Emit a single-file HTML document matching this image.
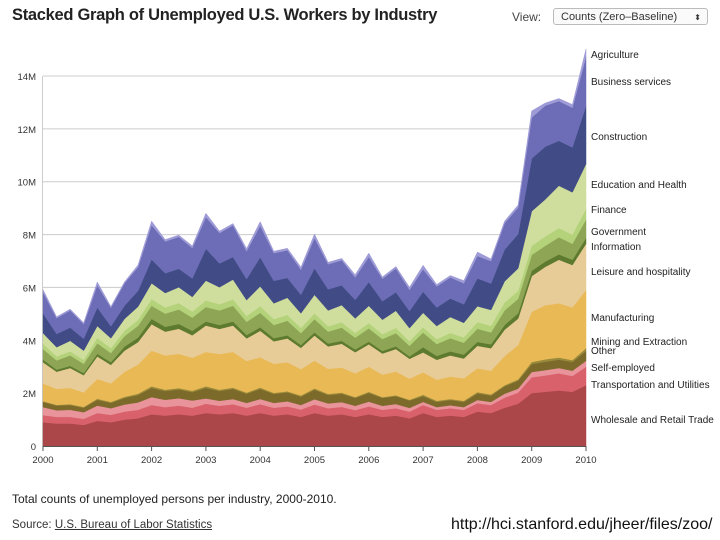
<!DOCTYPE html>
<html><head><meta charset="utf-8"><style>
body{margin:0;width:720px;height:540px;background:#fff;font-family:"Liberation Sans",sans-serif;overflow:hidden;position:relative}
.t{position:absolute;white-space:nowrap}
</style></head><body>
<div class="t" style="left:12px;top:6px;font-size:16.5px;font-weight:bold;color:#222;letter-spacing:-0.3px">Stacked Graph of Unemployed U.S. Workers by Industry</div>
<div class="t" style="left:512px;top:10px;font-size:12px;color:#444">View:</div>
<div class="t" style="left:553px;top:8px;width:155px;height:17px;border:1px solid #bbb;border-radius:3px;font-size:11px;color:#333;line-height:17px;padding-left:7px;box-sizing:border-box;background:#fafafa">Counts (Zero–Baseline)<span style="position:absolute;right:6px;font-size:8px">⬍</span></div>
<svg id="chart" width="720" height="540" style="position:absolute;left:0;top:0"></svg>
<div class="t" style="left:12px;top:492px;font-size:12px;color:#222">Total counts of unemployed persons per industry, 2000-2010.</div>
<div class="t" style="left:12px;top:519px;font-size:11.5px;color:#333">Source: <span style="text-decoration:underline">U.S. Bureau of Labor Statistics</span></div>
<div class="t" style="left:451px;top:516px;font-size:16px;color:#111">http://hci.stanford.edu/jheer/files/zoo/</div>
<script>
const years=[2000,2001,2002,2003,2004,2005,2006,2007,2008,2009,2010];
const yTicks=[0,2,4,6,8,10,12,14];
const yTickLabels=["0","2M","4M","6M","8M","10M","12M","14M"];
const seriesNames=["Wholesale and Retail Trade","Transportation and Utilities","Self-employed","Other","Mining and Extraction","Manufacturing","Leisure and hospitality","Information","Government","Finance","Education and Health","Construction","Business services","Agriculture"];
const wholesale=[0.9,0.85,0.85,0.8,0.95,0.9,1.0,1.05,1.2,1.15,1.2,1.15,1.25,1.2,1.25,1.15,1.25,1.15,1.2,1.1,1.25,1.15,1.2,1.1,1.2,1.1,1.15,1.05,1.25,1.1,1.15,1.1,1.3,1.25,1.45,1.6,2.0,2.05,2.1,2.05,2.3];
const transport=[0.27,0.25,0.25,0.23,0.3,0.28,0.3,0.32,0.35,0.32,0.33,0.3,0.35,0.32,0.33,0.3,0.33,0.3,0.3,0.28,0.32,0.28,0.28,0.26,0.3,0.27,0.28,0.25,0.3,0.27,0.28,0.27,0.32,0.3,0.38,0.42,0.6,0.62,0.65,0.6,0.7];
const selfEmployed=[0.3,0.25,0.27,0.25,0.28,0.25,0.27,0.28,0.3,0.28,0.28,0.27,0.2,0.19,0.2,0.18,0.2,0.18,0.19,0.17,0.2,0.18,0.18,0.16,0.18,0.15,0.16,0.14,0.12,0.1,0.11,0.1,0.12,0.12,0.15,0.15,0.2,0.2,0.2,0.2,0.22];
const other=[0.2,0.18,0.18,0.17,0.22,0.2,0.25,0.28,0.35,0.33,0.33,0.32,0.4,0.37,0.38,0.35,0.38,0.34,0.34,0.32,0.36,0.32,0.32,0.3,0.33,0.3,0.3,0.28,0.22,0.2,0.2,0.2,0.25,0.24,0.28,0.3,0.3,0.32,0.32,0.33,0.38];
const mining=[0.03,0.03,0.03,0.03,0.04,0.04,0.04,0.05,0.06,0.05,0.05,0.05,0.06,0.05,0.05,0.04,0.05,0.04,0.04,0.04,0.05,0.04,0.04,0.03,0.04,0.03,0.03,0.03,0.05,0.04,0.04,0.04,0.05,0.04,0.04,0.05,0.08,0.09,0.08,0.07,0.1];
const manufacturing=[0.67,0.6,0.62,0.55,0.75,0.7,0.95,1.1,1.35,1.3,1.3,1.25,1.3,1.35,1.35,1.2,1.15,1.1,1.1,1.0,1.05,0.95,0.95,0.9,0.95,0.85,0.9,0.8,0.85,0.8,0.85,0.85,0.9,0.9,1.1,1.3,1.9,2.05,2.05,2.0,2.2];
const leisure=[0.8,0.65,0.75,0.65,0.85,0.7,0.8,0.85,1.0,0.9,0.95,0.85,1.0,0.95,1.0,0.85,1.0,0.85,0.9,0.8,0.95,0.85,0.9,0.8,0.85,0.8,0.85,0.75,0.75,0.75,0.8,0.75,0.85,0.85,1.0,1.0,1.35,1.45,1.65,1.6,1.75];
const information=[0.1,0.08,0.08,0.08,0.1,0.1,0.15,0.17,0.2,0.18,0.18,0.17,0.15,0.15,0.15,0.13,0.13,0.12,0.12,0.11,0.12,0.11,0.11,0.1,0.1,0.1,0.1,0.09,0.2,0.15,0.15,0.15,0.15,0.15,0.18,0.2,0.2,0.2,0.2,0.2,0.22];
const government=[0.4,0.35,0.4,0.35,0.4,0.35,0.4,0.45,0.5,0.5,0.55,0.5,0.55,0.55,0.6,0.5,0.55,0.5,0.55,0.45,0.5,0.45,0.5,0.45,0.5,0.45,0.5,0.4,0.55,0.45,0.5,0.45,0.5,0.45,0.55,0.55,0.6,0.6,0.65,0.6,0.7];
const finance=[0.2,0.15,0.15,0.15,0.2,0.18,0.2,0.22,0.25,0.23,0.24,0.23,0.25,0.23,0.24,0.22,0.25,0.22,0.22,0.2,0.22,0.2,0.2,0.18,0.2,0.18,0.2,0.17,0.2,0.18,0.2,0.2,0.25,0.25,0.3,0.3,0.35,0.35,0.35,0.35,0.4];
const education=[0.4,0.35,0.4,0.35,0.45,0.38,0.45,0.5,0.6,0.55,0.6,0.55,0.75,0.65,0.75,0.6,0.75,0.6,0.65,0.55,0.7,0.6,0.65,0.55,0.65,0.55,0.65,0.5,0.55,0.5,0.6,0.55,0.6,0.6,0.8,0.85,1.3,1.4,1.6,1.6,1.7];
const construction=[0.75,0.5,0.5,0.45,0.7,0.45,0.5,0.6,0.9,0.75,0.7,0.7,1.2,0.9,0.85,0.8,1.1,0.85,0.75,0.7,1.0,0.8,0.75,0.7,0.9,0.7,0.7,0.65,0.8,0.7,0.7,0.7,1.05,1.0,1.2,1.3,2.0,2.0,1.7,1.7,2.2];
const business=[0.8,0.6,0.65,0.55,0.85,0.7,0.85,0.9,1.3,1.2,1.2,1.15,1.2,1.15,1.2,1.05,1.2,1.05,1.05,0.95,1.15,0.95,0.95,0.85,0.95,0.85,0.9,0.8,0.85,0.8,0.8,0.8,0.85,0.85,1.0,1.0,1.55,1.55,1.5,1.5,1.85];
const agriculture=[0.1,0.05,0.05,0.05,0.12,0.05,0.05,0.08,0.15,0.07,0.07,0.08,0.15,0.07,0.07,0.1,0.15,0.07,0.07,0.1,0.15,0.07,0.07,0.1,0.15,0.07,0.07,0.1,0.15,0.07,0.07,0.1,0.15,0.08,0.08,0.1,0.25,0.1,0.1,0.12,0.3];
const series=[wholesale,transport,selfEmployed,other,mining,manufacturing,leisure,information,government,finance,education,construction,business,agriculture];
const colors=["#ab4649","#d9616b","#e9939b","#7c6a2b","#99893a","#e8b955","#e8cc98","#5d7a2e","#8da554","#b3d27a","#cfdd9d","#414c86","#6c6db6","#9e9bd7"];
const labelY=[419,384,367,350,341,317,271,246,231,209,184,136,81,54];
const slug=["wholesale","transport","self-employed","other","mining","manufacturing","leisure","information","government","finance","education","construction","business","agriculture"];
const NS="http://www.w3.org/2000/svg";
const svg=document.getElementById('chart');
const x0=43,x1=586,yb=446,ytop=76;
const xs=t=>x0+(t-2000)/10*(x1-x0);
const ys=v=>yb-v/14*(yb-ytop);
function mk(tag,attrs){const e=document.createElementNS(NS,tag);for(const k in attrs)e.setAttribute(k,attrs[k]);svg.appendChild(e);return e;}
yTicks.forEach((v,i)=>{
  if(v>0){const g=mk('line',{x1:x0,x2:x1,y1:ys(v),y2:ys(v),stroke:'#ccc','stroke-width':1});
  
  }
  const t=mk('text',{x:36,y:ys(v)+4,'text-anchor':'end','font-size':9.5,fill:'#333','font-family':'Liberation Sans'});
  t.textContent=yTickLabels[i];
  
  
});
const n=wholesale.length;
const tAt=i=>2000+i*0.25;
let base=new Array(n).fill(0);
series.forEach((s,k)=>{
  const top=base.map((b,i)=>b+s[i]);
  let d='M'+top.map((v,i)=>xs(tAt(i)).toFixed(1)+','+ys(v).toFixed(1)).join('L');
  for(let i=n-1;i>=0;i--)d+='L'+xs(tAt(i)).toFixed(1)+','+ys(base[i]).toFixed(1);
  const p=mk('path',{d:d+'Z',fill:colors[k],stroke:colors[k],'stroke-width':0.5});
  
  
  const lb=mk('text',{x:591,y:labelY[k]+4,'font-size':10,fill:'#222','font-family':'Liberation Sans'});
  lb.textContent=seriesNames[k];
  
  
  base=top;
});
const ax=mk('line',{x1:x0,x2:x1,y1:yb+0.5,y2:yb+0.5,stroke:'#555'});


const ay=mk('line',{x1:x0-0.5,x2:x0-0.5,y1:yb,y2:ytop,stroke:'#999','stroke-width':0.5});


years.forEach(y=>{
  const tk=mk('line',{x1:xs(y),x2:xs(y),y1:yb,y2:yb+5,stroke:'#555'});
  
  
  const t=mk('text',{x:xs(y),y:yb+17,'text-anchor':'middle','font-size':9.5,fill:'#333','font-family':'Liberation Sans'});
  t.textContent=y;
  
  
});
</script>
</body></html>
